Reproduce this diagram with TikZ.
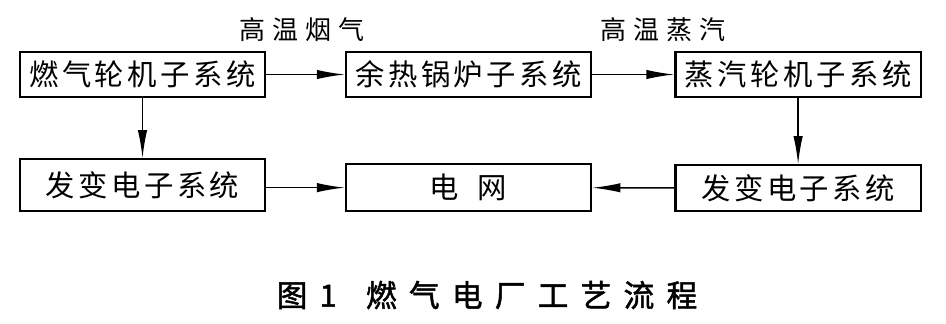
\documentclass[tikz,border=0pt]{standalone}
\usepackage{fontspec}
\newfontfamily\cjk[LetterSpace=12]{Noto Sans CJK SC}
\newfontfamily\cjklbl[LetterSpace=26]{Noto Sans CJK SC}
\newfontfamily\cjkcap[LetterSpace=40, FakeBold=1.6]{Noto Sans CJK SC}
\usetikzlibrary{positioning, arrows.meta}

\begin{document}
\begin{tikzpicture}[
  x=0.75pt, y=0.75pt,
  every node/.style={font=\cjk\fontsize{22}{26}\selectfont},
  sys/.style={draw, line width=1.6pt, inner sep=0pt, minimum width=184pt, minimum height=#1, align=center},
  sys/.default={34pt},
  arr/.style={-{Latex[length=21pt, width=7pt]}, line width=1.1pt},
  lbl/.style={font=\cjklbl\fontsize{19.5}{22}\selectfont},
]
  \useasboundingbox (0,0) rectangle (946,324);

  % Top row
  \node[sys] at (142.5,249.5) (gt) {燃气轮机子系统};
  \node[sys, right=59pt of gt] (hrsg) {余热锅炉子系统};
  \node[sys, right=61.5pt of hrsg] (st) {蒸汽轮机子系统};

  % Bottom row
  \node[sys=39pt, below=45pt of gt] (gen1) {发变电子系统};
  \node[sys=35pt, below=48.75pt of hrsg] (grid) {电\hspace{14pt}网};
  \node[sys, below=49.5pt of st] (gen2) {发变电子系统};

  % Flow labels
  \node[lbl] at (302,294) (flue) {高温烟气};
  \node[lbl] at (663,294) (steam) {高温蒸汽};

  % Arrows
  \draw[arr] (gt) -- (hrsg);
  \draw[arr] (hrsg) -- (st);
  \draw[arr] (gt) -- (gen1);
  \draw[arr] (st) -- (gen2);
  \draw[arr] (gen1.east |- grid) -- (grid);
  \draw[arr] (gen2) -- (grid);

  % Caption
  \node[font=\cjkcap\fontsize{23}{26}\selectfont] at (487,29) (cap) {图1\hspace{22pt}燃气电厂工艺流程};
\end{tikzpicture}
\end{document}
